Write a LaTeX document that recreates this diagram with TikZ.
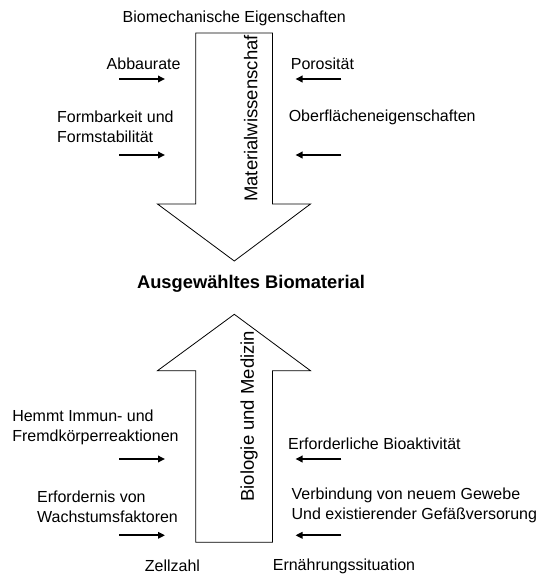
\documentclass[tikz,border=0pt]{standalone}
\usepackage{fontspec}
\setmainfont{Liberation Sans}
\usetikzlibrary{arrows.meta}
\tikzset{
  lbl/.style={inner sep=0pt, font=\fontsize{16}{20}\selectfont, align=left},
  side/.style={lbl, text=black},
  rot/.style={inner sep=0pt, font=\fontsize{18.5}{22}\selectfont, rotate=90, anchor=base west},
  blockarrow/.style={draw=black, line width=0.8pt, fill=white, line join=miter},
  smallarrow/.style={line width=1.8pt, -{Triangle[length=7pt,width=6.5pt]}, shorten >=0pt},
}
\begin{document}
\begin{tikzpicture}[x=1pt,y=-1pt]
\useasboundingbox[fill=white] (0,0) rectangle (538,574);

% top block arrow (down)
\draw[blockarrow] (195.7,33) -- (272.5,33) -- (272.5,204) -- (310.5,204)
  -- (234.3,261) -- (157.5,204) -- (195.7,204) -- cycle;
% bottom block arrow (up)
\draw[blockarrow] (195.7,542.3) -- (272.5,542.3) -- (272.5,370.7) -- (310.5,370.7)
  -- (234.3,314.3) -- (157.5,370.7) -- (195.7,370.7) -- cycle;

\node[rot] (mw) at (257.3,202) {Materialwissenschaf};
\node[rot] (bm) at (253.8,501.7) {Biologie und Medizin};

% top labels
\node[lbl] (bio) at (234.3,18.3) {Biomechanische Eigenschaften};
\node[lbl] (abb) at (143.6,63.3) {Abbaurate};
\node[lbl] (por) at (322.4,63.3) {Porosität};
\node[lbl, anchor=west] (form) at (56.9,127) {Formbarkeit und\\Formstabilität};
\node[lbl, anchor=west] (ober) at (288.6,117) {Oberflächeneigenschaften};

\node[font=\bfseries\fontsize{18.3}{22}\selectfont, inner sep=0pt] (aus) at (251,284) {Ausgewähltes Biomaterial};

% bottom labels
\node[lbl, anchor=west] (hem) at (12.1,427.8) {Hemmt Immun- und\\Fremdkörperreaktionen};
\node[lbl, anchor=west] (erf) at (36.9,507) {Erfordernis von\\Wachstumsfaktoren};
\node[lbl, anchor=west] (bioa) at (288,443.3) {Erforderliche Bioaktivität};
\node[lbl, anchor=west] (ver) at (291.4,505) {Verbindung von neuem Gewebe\\Und existierender Gefäßversorung};
\node[lbl] (zell) at (172.4,566) {Zellzahl};
\node[lbl] (ern) at (344,566) {Ernährungssituation};

% small arrows
\coordinate (a1s) at (119,79);   \coordinate (a1e) at (165,79);
\coordinate (a2s) at (341.4,79); \coordinate (a2e) at (295.5,79);
\coordinate (a3s) at (119,155);  \coordinate (a3e) at (165,155);
\coordinate (a4s) at (341.4,155);\coordinate (a4e) at (295.5,155);
\coordinate (a5s) at (119,459);  \coordinate (a5e) at (165,459);
\coordinate (a6s) at (341.4,459);\coordinate (a6e) at (295.5,459);
\coordinate (a7s) at (119,535.3);\coordinate (a7e) at (165,535.3);
\coordinate (a8s) at (341.4,535.3);\coordinate (a8e) at (295.5,535.3);
\draw[smallarrow] (a1s) -- (a1e);
\draw[smallarrow] (a2s) -- (a2e);
\draw[smallarrow] (a3s) -- (a3e);
\draw[smallarrow] (a4s) -- (a4e);
\draw[smallarrow] (a5s) -- (a5e);
\draw[smallarrow] (a6s) -- (a6e);
\draw[smallarrow] (a7s) -- (a7e);
\draw[smallarrow] (a8s) -- (a8e);
\end{tikzpicture}
\end{document}
